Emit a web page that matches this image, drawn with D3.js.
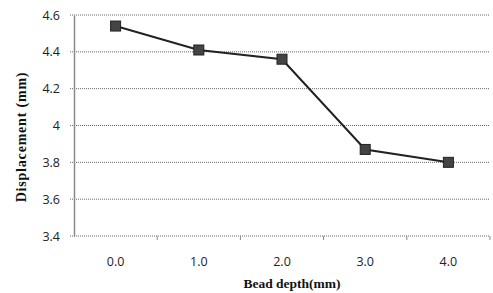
<!DOCTYPE html>
<html>
<head>
<meta charset="utf-8">
<script src="https://d3js.org/d3.v7.min.js"></script>
<style>
  body { margin: 0; background: #fff; }
  svg { display: block; }
</style>
</head>
<body>
<div id="chart"></div>
<script>
var depths = ["0.0", "1.0", "2.0", "3.0", "4.0"];
var displacement = [4.54, 4.41, 4.36, 3.87, 3.80];
var yTicks = [3.4, 3.6, 3.8, 4, 4.2, 4.4, 4.6];

var svgWidth = 493;
var svgHeight = 293;
var margin = { top: 15, right: 3, bottom: 57, left: 74 };
var width = svgWidth - margin.left - margin.right;
var height = svgHeight - margin.top - margin.bottom;

var svg = d3.select("#chart")
  .append("svg")
  .attr("width", svgWidth)
  .attr("height", svgHeight);

var chartGroup = svg.append("g")
  .attr("transform", `translate(${margin.left}, ${margin.top})`);

// scales
var xScale = d3.scaleBand()
  .domain(depths)
  .range([0, width]);

var yScale = d3.scaleLinear()
  .domain([3.4, 4.6])
  .range([height, 0]);

// gridlines
chartGroup.append("g")
  .selectAll("line")
  .data(yTicks)
  .enter()
  .append("line")
  .attr("x1", -4)
  .attr("x2", width)
  .attr("y1", d => yScale(d))
  .attr("y2", d => yScale(d))
  .attr("stroke", "#666")
  .attr("stroke-width", 1)
  .attr("stroke-dasharray", "1,1");

// left axis
var leftAxis = d3.axisLeft(yScale)
  .tickValues(yTicks)
  .tickFormat(d => d === 4 ? "4" : d3.format(".1f")(d))
  .tickSize(0)
  .tickPadding(14);

var yAxisG = chartGroup.append("g").call(leftAxis);
yAxisG.select(".domain").attr("stroke", "#888").attr("stroke-width", 1.5);
yAxisG.selectAll("text")
  .attr("font-family", "'Open Sans', sans-serif")
  .attr("font-size", 12.5)
  .attr("fill", "#222");

// bottom axis
var bottomAxis = d3.axisBottom(xScale)
  .tickSize(0)
  .tickPadding(21);

var xAxisG = chartGroup.append("g")
  .attr("transform", `translate(0, ${height})`)
  .call(bottomAxis);
xAxisG.select(".domain").remove();
xAxisG.selectAll("text")
  .attr("font-family", "'Open Sans', sans-serif")
  .attr("font-size", 12.5)
  .attr("fill", "#222");

// category boundary ticks
chartGroup.append("g")
  .selectAll("line")
  .data(depths)
  .enter()
  .append("line")
  .attr("x1", d => xScale(d) + xScale.bandwidth())
  .attr("x2", d => xScale(d) + xScale.bandwidth())
  .attr("y1", height)
  .attr("y2", height + 4)
  .attr("stroke", "#888")
  .attr("stroke-width", 1);

// line
var points = depths.map((d, i) => ({ x: d, y: displacement[i] }));

var line = d3.line()
  .x(d => xScale(d.x) + xScale.bandwidth() / 2)
  .y(d => yScale(d.y));

chartGroup.append("path")
  .datum(points)
  .attr("d", line)
  .attr("fill", "none")
  .attr("stroke", "#222")
  .attr("stroke-width", 2);

// square markers
chartGroup.selectAll("rect.marker")
  .data(points)
  .enter()
  .append("rect")
  .attr("class", "marker")
  .attr("x", d => xScale(d.x) + xScale.bandwidth() / 2 - 5)
  .attr("y", d => yScale(d.y) - 5)
  .attr("width", 10)
  .attr("height", 10)
  .attr("fill", "#444")
  .attr("stroke", "#222")
  .attr("stroke-width", 1);

// axis titles
svg.append("text")
  .attr("transform", "translate(26, 137) rotate(-90)")
  .attr("text-anchor", "middle")
  .attr("font-family", "'Liberation Serif', serif")
  .attr("font-weight", "bold")
  .attr("font-size", 14)
  .attr("letter-spacing", 0.8)
  .attr("fill", "#111")
  .text("Displacement (mm)");

svg.append("text")
  .attr("x", 292)
  .attr("y", 288)
  .attr("text-anchor", "middle")
  .attr("font-family", "'Liberation Serif', serif")
  .attr("font-weight", "bold")
  .attr("font-size", 13.5)
  .attr("fill", "#111")
  .text("Bead depth(mm)");
</script>
</body>
</html>
